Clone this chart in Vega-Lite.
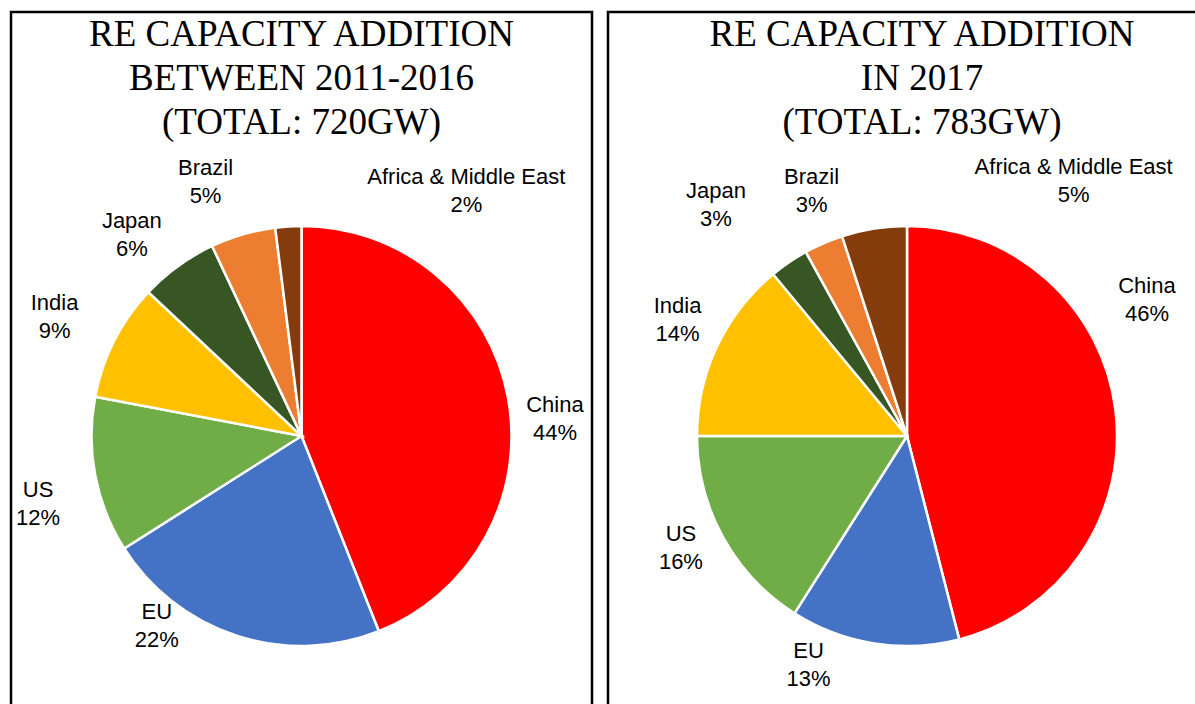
{
  "$schema": "https://vega.github.io/schema/vega-lite/v6.json",
  "background": "white",
  "padding": {"left": 9, "top": 10, "right": 0, "bottom": 0},
  "spacing": 16,
  "bounds": "flush",
  "config": {
    "view": {"stroke": "black", "strokeWidth": 2.5},
    "title": {"font": "Liberation Serif", "fontSize": 37, "fontWeight": "normal", "lineHeight": 44, "color": "black", "anchor": "middle"},
    "text": {"font": "Liberation Sans", "fontSize": 22, "fill": "black", "align": "center", "baseline": "middle", "clip": true}
  },
  "datasets": {
    "p2011": [
      {"country": "China", "share": 0.44, "rank": 1},
      {"country": "EU", "share": 0.22, "rank": 2},
      {"country": "US", "share": 0.12, "rank": 3},
      {"country": "India", "share": 0.09, "rank": 4},
      {"country": "Japan", "share": 0.06, "rank": 5},
      {"country": "Brazil", "share": 0.05, "rank": 6},
      {"country": "Africa & Middle East", "share": 0.02, "rank": 7}
    ],
    "p2017": [
      {"country": "China", "share": 0.46, "rank": 1},
      {"country": "EU", "share": 0.13, "rank": 2},
      {"country": "US", "share": 0.16, "rank": 3},
      {"country": "India", "share": 0.14, "rank": 4},
      {"country": "Japan", "share": 0.03, "rank": 5},
      {"country": "Brazil", "share": 0.03, "rank": 6},
      {"country": "Africa & Middle East", "share": 0.05, "rank": 7}
    ]
  },
  "hconcat": [
    {
      "width": 581,
      "height": 848,
      "view": {"stroke": "black", "strokeWidth": 2.5, "fill": "white"},
      "data": {"name": "p2011"},
      "title": {"text": ["RE CAPACITY ADDITION", "BETWEEN 2011-2016", "(TOTAL: 720GW)"], "offset": -130},
      "encoding": {
        "theta": {"field": "share", "type": "quantitative", "stack": true},
        "order": {"field": "rank", "type": "quantitative"}
      },
      "layer": [
        {
          "mark": {"type": "arc", "outerRadius": 210, "stroke": "white", "strokeWidth": 2.5},
          "encoding": {
            "color": {"field": "country", "type": "nominal", "legend": null,
              "scale": {"domain": ["China", "EU", "US", "India", "Japan", "Brazil", "Africa & Middle East"],
                        "range": ["#FF0000", "#4472C4", "#70AD47", "#FFC000", "#375623", "#ED7D31", "#843C0C"]}}
          }
        },
        {"mark": {"type": "text", "radius": 258, "dx": 0, "dy": 17, "clip": true},
         "encoding": {"text": {"field": "country"}, "opacity": {"condition": {"test": "datum.country === 'China'", "value": 1}, "value": 0}}},
        {"mark": {"type": "text", "radius": 258, "dx": 0, "dy": 45, "clip": true},
         "encoding": {"text": {"field": "share", "type": "quantitative", "format": ".0%"}, "opacity": {"condition": {"test": "datum.country === 'China'", "value": 1}, "value": 0}}},
        {"mark": {"type": "text", "radius": 258, "dx": -65, "dy": -69, "clip": true},
         "encoding": {"text": {"field": "country"}, "opacity": {"condition": {"test": "datum.country === 'EU'", "value": 1}, "value": 0}}},
        {"mark": {"type": "text", "radius": 258, "dx": -65, "dy": -41, "clip": true},
         "encoding": {"text": {"field": "share", "type": "quantitative", "format": ".0%"}, "opacity": {"condition": {"test": "datum.country === 'EU'", "value": 1}, "value": 0}}},
        {"mark": {"type": "text", "radius": 258, "dx": -10, "dy": 6, "clip": true},
         "encoding": {"text": {"field": "country"}, "opacity": {"condition": {"test": "datum.country === 'US'", "value": 1}, "value": 0}}},
        {"mark": {"type": "text", "radius": 258, "dx": -10, "dy": 34, "clip": true},
         "encoding": {"text": {"field": "share", "type": "quantitative", "format": ".0%"}, "opacity": {"condition": {"test": "datum.country === 'US'", "value": 1}, "value": 0}}},
        {"mark": {"type": "text", "radius": 258, "dx": -17, "dy": -16, "clip": true},
         "encoding": {"text": {"field": "country"}, "opacity": {"condition": {"test": "datum.country === 'India'", "value": 1}, "value": 0}}},
        {"mark": {"type": "text", "radius": 258, "dx": -17, "dy": 12, "clip": true},
         "encoding": {"text": {"field": "share", "type": "quantitative", "format": ".0%"}, "opacity": {"condition": {"test": "datum.country === 'India'", "value": 1}, "value": 0}}},
        {"mark": {"type": "text", "radius": 258, "dx": -18, "dy": -6, "clip": true},
         "encoding": {"text": {"field": "country"}, "opacity": {"condition": {"test": "datum.country === 'Japan'", "value": 1}, "value": 0}}},
        {"mark": {"type": "text", "radius": 258, "dx": -18, "dy": 22, "clip": true},
         "encoding": {"text": {"field": "share", "type": "quantitative", "format": ".0%"}, "opacity": {"condition": {"test": "datum.country === 'Japan'", "value": 1}, "value": 0}}},
        {"mark": {"type": "text", "radius": 258, "dx": -24, "dy": -20, "clip": true},
         "encoding": {"text": {"field": "country"}, "opacity": {"condition": {"test": "datum.country === 'Brazil'", "value": 1}, "value": 0}}},
        {"mark": {"type": "text", "radius": 258, "dx": -24, "dy": 8, "clip": true},
         "encoding": {"text": {"field": "share", "type": "quantitative", "format": ".0%"}, "opacity": {"condition": {"test": "datum.country === 'Brazil'", "value": 1}, "value": 0}}},
        {"mark": {"type": "text", "radius": 258, "dx": 181, "dy": -2, "clip": true},
         "encoding": {"text": {"field": "country"}, "opacity": {"condition": {"test": "datum.country === 'Africa & Middle East'", "value": 1}, "value": 0}}},
        {"mark": {"type": "text", "radius": 258, "dx": 181, "dy": 26, "clip": true},
         "encoding": {"text": {"field": "share", "type": "quantitative", "format": ".0%"}, "opacity": {"condition": {"test": "datum.country === 'Africa & Middle East'", "value": 1}, "value": 0}}}
      ]
    },
    {
      "width": 598,
      "height": 848,
      "view": {"stroke": "black", "strokeWidth": 2.5, "fill": "white"},
      "data": {"name": "p2017"},
      "title": {"text": ["RE CAPACITY ADDITION", "IN 2017", "(TOTAL: 783GW)"], "offset": -130, "dx": 15},
      "encoding": {
        "theta": {"field": "share", "type": "quantitative", "stack": true},
        "order": {"field": "rank", "type": "quantitative"}
      },
      "layer": [
        {
          "mark": {"type": "arc", "outerRadius": 210, "stroke": "white", "strokeWidth": 2.5},
          "encoding": {
            "color": {"field": "country", "type": "nominal", "legend": null,
              "scale": {"domain": ["China", "EU", "US", "India", "Japan", "Brazil", "Africa & Middle East"],
                        "range": ["#FF0000", "#4472C4", "#70AD47", "#FFC000", "#375623", "#ED7D31", "#843C0C"]}}
          }
        },
        {"mark": {"type": "text", "radius": 258, "dx": -16, "dy": -118, "clip": true},
         "encoding": {"text": {"field": "country"}, "opacity": {"condition": {"test": "datum.country === 'China'", "value": 1}, "value": 0}}},
        {"mark": {"type": "text", "radius": 258, "dx": -16, "dy": -90, "clip": true},
         "encoding": {"text": {"field": "share", "type": "quantitative", "format": ".0%"}, "opacity": {"condition": {"test": "datum.country === 'China'", "value": 1}, "value": 0}}},
        {"mark": {"type": "text", "radius": 258, "dx": -58, "dy": -40, "clip": true},
         "encoding": {"text": {"field": "country"}, "opacity": {"condition": {"test": "datum.country === 'EU'", "value": 1}, "value": 0}}},
        {"mark": {"type": "text", "radius": 258, "dx": -58, "dy": -12, "clip": true},
         "encoding": {"text": {"field": "share", "type": "quantitative", "format": ".0%"}, "opacity": {"condition": {"test": "datum.country === 'EU'", "value": 1}, "value": 0}}},
        {"mark": {"type": "text", "radius": 258, "dx": 0, "dy": -26, "clip": true},
         "encoding": {"text": {"field": "country"}, "opacity": {"condition": {"test": "datum.country === 'US'", "value": 1}, "value": 0}}},
        {"mark": {"type": "text", "radius": 258, "dx": 0, "dy": 2, "clip": true},
         "encoding": {"text": {"field": "share", "type": "quantitative", "format": ".0%"}, "opacity": {"condition": {"test": "datum.country === 'US'", "value": 1}, "value": 0}}},
        {"mark": {"type": "text", "radius": 258, "dx": 4, "dy": -20, "clip": true},
         "encoding": {"text": {"field": "country"}, "opacity": {"condition": {"test": "datum.country === 'India'", "value": 1}, "value": 0}}},
        {"mark": {"type": "text", "radius": 258, "dx": 4, "dy": 8, "clip": true},
         "encoding": {"text": {"field": "share", "type": "quantitative", "format": ".0%"}, "opacity": {"condition": {"test": "datum.country === 'India'", "value": 1}, "value": 0}}},
        {"mark": {"type": "text", "radius": 258, "dx": -46, "dy": -32, "clip": true},
         "encoding": {"text": {"field": "country"}, "opacity": {"condition": {"test": "datum.country === 'Japan'", "value": 1}, "value": 0}}},
        {"mark": {"type": "text", "radius": 258, "dx": -46, "dy": -4, "clip": true},
         "encoding": {"text": {"field": "share", "type": "quantitative", "format": ".0%"}, "opacity": {"condition": {"test": "datum.country === 'Japan'", "value": 1}, "value": 0}}},
        {"mark": {"type": "text", "radius": 258, "dx": 7, "dy": -22, "clip": true},
         "encoding": {"text": {"field": "country"}, "opacity": {"condition": {"test": "datum.country === 'Brazil'", "value": 1}, "value": 0}}},
        {"mark": {"type": "text", "radius": 258, "dx": 7, "dy": 6, "clip": true},
         "encoding": {"text": {"field": "share", "type": "quantitative", "format": ".0%"}, "opacity": {"condition": {"test": "datum.country === 'Brazil'", "value": 1}, "value": 0}}},
        {"mark": {"type": "text", "radius": 258, "dx": 207, "dy": -14, "clip": true},
         "encoding": {"text": {"field": "country"}, "opacity": {"condition": {"test": "datum.country === 'Africa & Middle East'", "value": 1}, "value": 0}}},
        {"mark": {"type": "text", "radius": 258, "dx": 207, "dy": 14, "clip": true},
         "encoding": {"text": {"field": "share", "type": "quantitative", "format": ".0%"}, "opacity": {"condition": {"test": "datum.country === 'Africa & Middle East'", "value": 1}, "value": 0}}}
      ]
    }
  ]
}
